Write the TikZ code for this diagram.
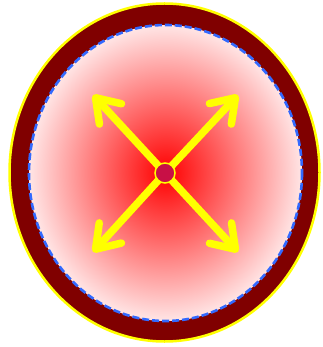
\documentclass[tikz,border=0pt]{standalone}
\usepackage{tikz}
\usetikzlibrary{arrows.meta}
\definecolor{DarkMaroon}{RGB}{128, 0, 0}
\definecolor{RimYellow}{RGB}{255, 255, 0}
\definecolor{DashBlue}{RGB}{50, 105, 255}
\definecolor{HubCrimson}{RGB}{200, 16, 70}

\begin{document}
\begin{tikzpicture}[
        x=1pt, y=-1pt,
        rim/.style={fill=DarkMaroon, draw=RimYellow, line width=2.5pt},
        core/.style={shading=radial, inner color=red, outer color=red!10,
                     draw=DashBlue, line width=2.6pt, dash pattern=on 7pt off 3pt},
        hub/.style={circle, fill=HubCrimson, draw=RimYellow, line width=1.5pt,
                    inner sep=0pt, minimum size=20pt},
        push/.style={-{Straight Barb[length=22pt, width=30pt, round]},
                     line width=7.5pt, RimYellow, line cap=round}
    ]
        \useasboundingbox (0,0) rectangle (322,347);

        \path[rim] (164.5,172.5) ellipse [x radius=155, y radius=169];
        \path[core] (165.5,173) ellipse [x radius=136.5, y radius=148];

        \coordinate (center) at (165,173);
        \coordinate (nw) at (93,95);
        \coordinate (ne) at (238,95);
        \coordinate (sw) at (93,252);
        \coordinate (se) at (238,252);

        \draw[push] (center) -- (nw);
        \draw[push] (center) -- (ne);
        \draw[push] (center) -- (sw);
        \draw[push] (center) -- (se);

        \node[hub] (dot) at (center) {};
    \end{tikzpicture}
\end{document}
